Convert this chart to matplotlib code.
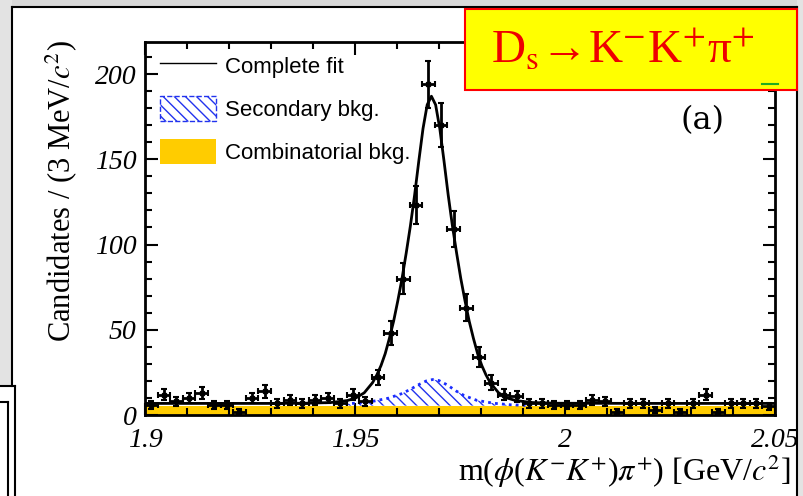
import numpy as np
import matplotlib.pyplot as plt
from matplotlib.patches import Patch, Rectangle
from matplotlib.lines import Line2D
from matplotlib.ticker import MultipleLocator, FuncFormatter

plt.rcParams['mathtext.fontset'] = 'stix'
plt.rcParams['hatch.linewidth'] = 1.0

# --- data: 3 MeV bins between 1.9 and 2.05 GeV ---
bin_edges = np.linspace(1.9, 2.05, 51)
bin_centres = 0.5 * (bin_edges[:-1] + bin_edges[1:])
counts = [6, 12, 8, 10, 13, 6, 6, 2, 10, 14, 7, 9, 7, 9, 10, 7, 12, 8, 22,
          48, 80, 123, 194, 170, 109, 63, 34,
          19, 12, 11, 7, 7, 6, 6, 6, 9, 8, 2, 7, 7, 3, 7, 2, 7, 12, 2, 7, 7, 7, 5]

# complete fit
fit_mass = [1.9000, 1.9300, 1.9382, 1.9442, 1.9482, 1.9502, 1.9522, 1.9542, 1.9552,
            1.9562, 1.9572, 1.9582, 1.9592, 1.9602, 1.9612, 1.9622, 1.9632, 1.9642,
            1.9652, 1.9662, 1.9672, 1.9682, 1.9692, 1.9702, 1.9712, 1.9722, 1.9732,
            1.9742, 1.9752, 1.9762, 1.9772, 1.9782, 1.9792, 1.9802, 1.9812, 1.9822,
            1.9842, 1.9862, 1.9882, 1.9922, 1.9982, 2.0200, 2.0500]
fit_total = [6.8, 6.8, 6.9, 7.3, 8.5, 10, 13, 19, 23.5,
             29, 36, 45, 55, 67, 80, 95, 111, 129,
             149, 168, 182, 187, 182, 168, 149, 129, 111,
             95, 80, 67, 55, 45, 36, 29, 23.5, 19,
             13, 10, 8.5, 7.3, 6.9, 6.8, 6.8]

# secondary background (stacked on the combinatorial one)
sec_mass = [1.946, 1.950, 1.954, 1.958, 1.961, 1.963, 1.965, 1.967, 1.9685,
            1.970, 1.972, 1.974, 1.976, 1.979, 1.983, 1.987, 1.991]
sec_top = [6.2, 6.9, 7.9, 9.9, 12.4, 14.8, 17.6, 20.0, 20.8,
           20.2, 17.6, 14.2, 11.4, 8.6, 6.9, 6.0, 5.6]

# combinatorial background (flat)
comb_mass = [1.9, 2.05]
comb_level = [5.5, 5.5]

# --- figure ---
fig = plt.figure(figsize=(8.04, 4.96), dpi=100)
W, H = 804.0, 496.0

def px_rect(x0, y0, x1, y1, **kw):
    # rectangle given in pixel coords (origin top-left)
    r = Rectangle((x0 / W, 1 - y1 / H), (x1 - x0) / W, (y1 - y0) / H,
                  transform=fig.transFigure, **kw)
    fig.patches.append(r)
    return r

# screenshot frame around the plot
px_rect(0, 0, 804, 7, facecolor='#d8d8d8', edgecolor='none', zorder=0)
px_rect(0, 0, 12, 386, facecolor='#e3e3e3', edgecolor='none', zorder=0)
px_rect(797, 0, 804, 496, facecolor='#e3e3e3', edgecolor='none', zorder=0)
fig.add_artist(Line2D([12 / W, 797 / W], [1 - 7 / H, 1 - 7 / H], color='black', lw=1.5))
fig.add_artist(Line2D([12 / W, 12 / W], [1 - 7 / H, 1 - 386 / H], color='black', lw=1.5))
fig.add_artist(Line2D([797 / W, 797 / W], [1 - 7 / H, 0], color='black', lw=1.5))
fig.add_artist(Line2D([0, 15 / W], [1 - 386 / H, 1 - 386 / H], color='black', lw=1.5))
fig.add_artist(Line2D([15 / W, 15 / W], [1 - 386 / H, 0], color='black', lw=1.5))
fig.add_artist(Line2D([0, 8 / W], [1 - 402 / H, 1 - 402 / H], color='black', lw=1.5))
fig.add_artist(Line2D([8 / W, 8 / W], [1 - 402 / H, 0], color='black', lw=1.5))

ax = fig.add_axes([0.1803, 0.1633, 0.7836, 0.752])

ax.fill_between(comb_mass, 0, comb_level, color='#ffcc00', lw=0, zorder=1)
ax.fill_between(sec_mass, 5.5, sec_top, facecolor='none', edgecolor='#2233ee',
                hatch='\\\\\\', lw=0, zorder=2)
ax.plot(sec_mass, sec_top, color='#1a2cff', lw=2, ls=(0, (1, 1.5)), zorder=3)
ax.plot(fit_mass, fit_total, color='black', lw=2, zorder=4)
ax.errorbar(bin_centres, counts, xerr=0.0015, yerr=np.sqrt(counts), fmt='s',
            ms=2.5, color='black', elinewidth=2, capsize=2.5, capthick=1.5, zorder=5)

ax.set_xlim(1.9, 2.05)
ax.set_ylim(0, 218.8)
ax.xaxis.set_major_locator(MultipleLocator(0.05))
ax.xaxis.set_minor_locator(MultipleLocator(0.01))
ax.yaxis.set_major_locator(MultipleLocator(50))
ax.yaxis.set_minor_locator(MultipleLocator(10))
ax.xaxis.set_major_formatter(FuncFormatter(lambda v, p: f'{v:g}'))
ax.tick_params(which='both', direction='in', top=True, right=True, width=1.5)
ax.tick_params(which='major', length=9)
ax.tick_params(which='minor', length=5)
ax.tick_params(axis='x', pad=9)
ax.tick_params(axis='y', pad=6)
for lab in ax.get_xticklabels() + ax.get_yticklabels():
    lab.set_fontfamily('Liberation Serif')
    lab.set_fontstyle('italic')
    lab.set_fontsize(20)
for s in ax.spines.values():
    s.set_linewidth(2)

ax.set_ylabel(r'Candidates / (3 MeV/$c^{2}$)', fontfamily='Liberation Serif', fontsize=22)
ax.yaxis.set_label_coords(-0.105, 0.6)
ax.set_xlabel(r'm($\phi$($K^{-}K^{+}$)$\pi^{+}$) [GeV/$c^{2}$]',
              fontfamily='Liberation Serif', fontsize=23)
ax.xaxis.set_label_coords(1.025, -0.1)
ax.xaxis.label.set_horizontalalignment('right')

handles = [Line2D([], [], color='black', lw=1),
           Patch(facecolor='none', edgecolor='#2233ee', hatch='\\\\\\', ls='--', lw=1),
           Patch(facecolor='#ffcc00', edgecolor='none')]
labels = ['Complete fit', 'Secondary bkg.', 'Combinatorial bkg.']
ax.legend(handles, labels, loc='upper left', bbox_to_anchor=(0.024, 0.97), frameon=False,
          prop={'family': 'Liberation Sans', 'size': 16}, handlelength=2.5,
          handleheight=1.35, labelspacing=0.8, handletextpad=0.4,
          borderpad=0, borderaxespad=0)

ax.text(0.885, 0.79, '(a)', transform=ax.transAxes, fontsize=23,
        fontfamily='DejaVu Serif', ha='center', va='center')

# title box on top
px_rect(465, 9, 797, 90, facecolor='#ffff00', edgecolor='#ff0000', lw=1.5, zorder=10)
fig.text(623 / W, 1 - 50 / H, r'D$_{\mathrm{s}}$→K$^{-}$K$^{+}$π$^{+}$', color='#ee0000',
         fontfamily='Liberation Serif', fontsize=34, ha='center', va='center', zorder=11)
fig.add_artist(Line2D([762 / W, 778 / W], [1 - 84 / H, 1 - 84 / H], color='#22aa22', lw=1.5,
                      zorder=11))

fig.savefig('out.png', dpi=100)
